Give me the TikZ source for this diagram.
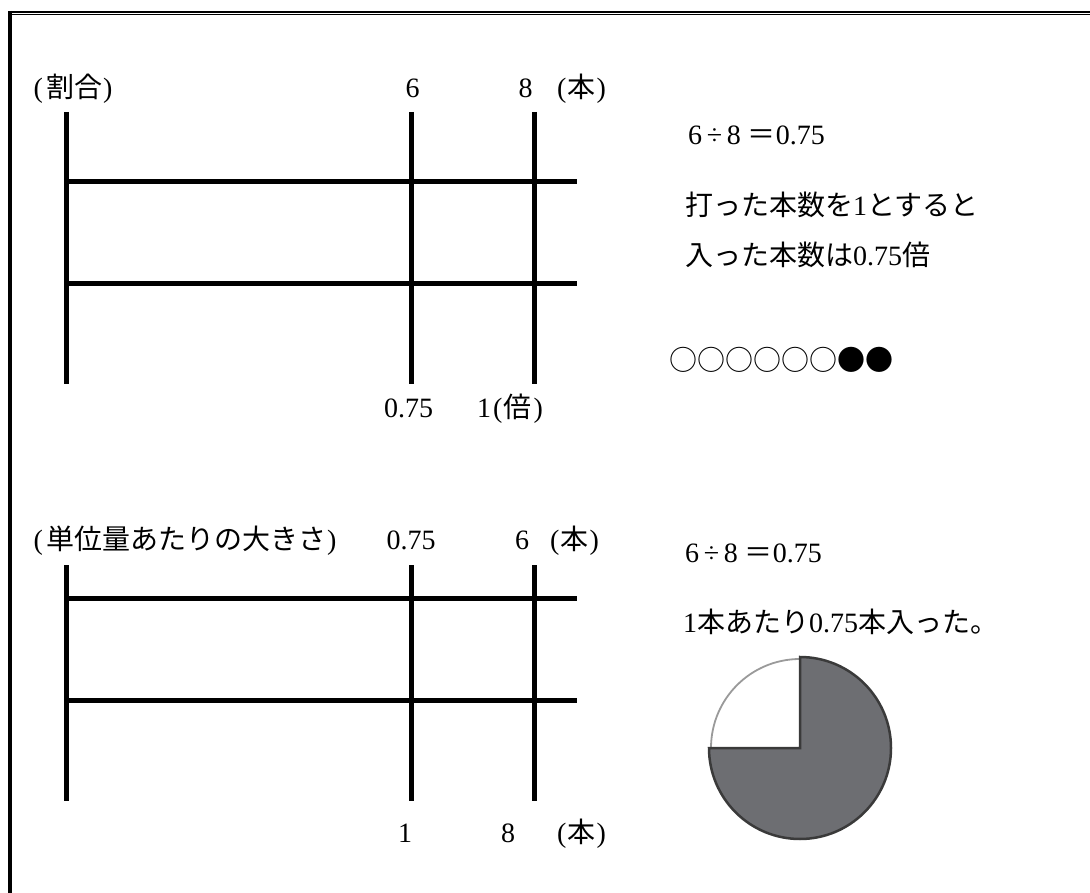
\documentclass[tikz,border=0pt]{standalone}
\usepackage{fontspec}
\setmainfont{Liberation Serif}
\newfontfamily\jp{Noto Sans CJK JP}
\definecolor{piedark}{HTML}{6D6E72}
\definecolor{pieedge}{HTML}{3A3A3A}
\definecolor{piegray}{HTML}{9A9A9A}
\begin{document}
\begin{tikzpicture}[x=1pt,y=-1pt,
  lab/.style={inner sep=0pt,font=\fontsize{28}{32}\selectfont},
  bar/.style={line width=5pt},
  frame/.style={line width=2pt}]
\useasboundingbox (0,0) rectangle (1090,893);
% frame
\draw[frame] (8,12) -- (1090,12);
\draw[line width=1.4pt] (12,14.8) -- (1090,14.8);
\draw[line width=4pt] (10,11) -- (10,893);
% ---------- top diagram ----------
\coordinate (a1) at (66.5,112); \coordinate (a1b) at (66.5,384);
\coordinate (a2) at (411.5,112); \coordinate (a2b) at (411.5,384);
\coordinate (a3) at (534.5,112); \coordinate (a3b) at (534.5,384);
\coordinate (h1a) at (66.5,181.5); \coordinate (h1b) at (577,181.5);
\coordinate (h2a) at (66.5,283.5); \coordinate (h2b) at (577,283.5);
\draw[bar] (a1) -- (a1b);
\draw[bar] (a2) -- (a2b);
\draw[bar] (a3) -- (a3b);
\draw[bar] (h1a) -- (h1b);
\draw[bar] (h2a) -- (h2b);
\node[lab,anchor=base west] (t1) at (33.5,98) {(\kern3pt{\jp 割合}\kern1pt)};
\node[lab,anchor=base] (t2) at (412.5,98) {6};
\node[lab,anchor=base] (t3) at (525.5,98) {8};
\node[lab,anchor=base west] (t3p) at (557,98) {(\kern1pt{\jp 本}\kern1pt)};
\node[lab,anchor=base] (t4) at (408.5,417) {0.75};
\node[lab,anchor=base west] (t5) at (477,417) {1\kern2pt(\kern1pt{\jp 倍}\kern2pt)};
\node[lab,anchor=base west] (r1) at (688,145) {6\,÷\,8 {\jp ＝}0.75};
\node[lab,anchor=base west] (r2) at (685,216) {{\jp 打った本数を}1{\jp とすると}};
\node[lab,anchor=base west] (r3) at (685,266) {{\jp 入った本数は}0.75{\jp 倍}};
\node[lab,anchor=west] (r4) at (669,360) {\jp ○○○○○○●●};
% ---------- bottom diagram ----------
\coordinate (b1) at (66.5,565); \coordinate (b1b) at (66.5,801);
\coordinate (b2) at (411.5,565); \coordinate (b2b) at (411.5,801);
\coordinate (b3) at (534.5,565); \coordinate (b3b) at (534.5,801);
\coordinate (g1a) at (66.5,598.5); \coordinate (g1b) at (577,598.5);
\coordinate (g2a) at (66.5,700.5); \coordinate (g2b) at (577,700.5);
\draw[bar] (b1) -- (b1b);
\draw[bar] (b2) -- (b2b);
\draw[bar] (b3) -- (b3b);
\draw[bar] (g1a) -- (g1b);
\draw[bar] (g2a) -- (g2b);
\node[lab,anchor=base west] (u1) at (33.5,549) {(\kern3pt{\jp 単位量あたりの大きさ}\kern1pt)};
\node[lab,anchor=base] (u2) at (411,549) {0.75};
\node[lab,anchor=base] (u3) at (522,549) {6};
\node[lab,anchor=base west] (u3p) at (550,549) {(\kern1pt{\jp 本}\kern1pt)};
\node[lab,anchor=base] (u4) at (405,842) {1};
\node[lab,anchor=base] (u5) at (508,842) {8};
\node[lab,anchor=base west] (u5p) at (557,842) {(\kern1pt{\jp 本}\kern1pt)};
\node[lab,anchor=base west] (s1) at (685,562) {6\,÷\,8 {\jp ＝}0.75};
\node[lab,anchor=base west] (s2) at (683,632) {1{\jp 本あたり}0.75{\jp 本入った。}};
% pie
\begin{scope}[shift={(800,748)}]
  \filldraw[fill=white,draw=piegray,line width=1.8pt] (0pt,0pt) -- (90:89pt) arc[start angle=90,end angle=180,radius=89pt] -- cycle;
  \filldraw[fill=piedark,draw=pieedge,line width=2.5pt,line join=miter] (0pt,0pt) -- (180:91pt) arc[start angle=180,end angle=450,radius=91pt] -- cycle;
\end{scope}
\end{tikzpicture}
\end{document}
